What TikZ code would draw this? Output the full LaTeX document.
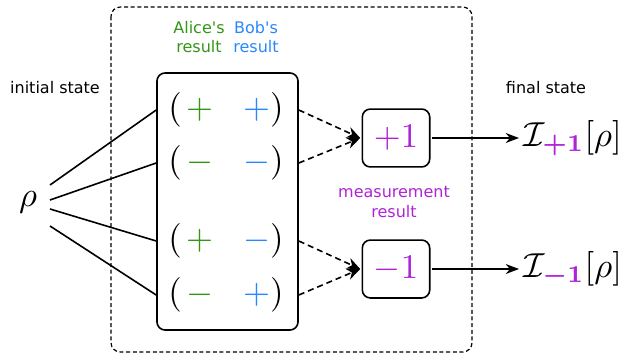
\RequirePackage{fix-cm}
\documentclass[tikz,border=0pt]{standalone}
\usepackage{amsmath}
\usepackage{amssymb}
\usepackage{fontspec}
\setsansfont{DejaVu Sans}
\usepackage{tikz}
\usetikzlibrary{arrows.meta}

\definecolor{alicegreen}{RGB}{51,150,20}
\definecolor{bobblue}{RGB}{40,135,255}
\definecolor{measpurple}{RGB}{175,35,215}

\tikzset{
  lbl/.style={font=\sffamily\fontsize{12}{14.5}\selectfont, align=center},
  big/.style={font=\fontsize{10}{12}\selectfont, scale=2.6},
  wire/.style={line width=1.2pt},
  resbox/.style={draw, wire, rounded corners=6pt, minimum width=19.2pt, minimum height=16.7pt, big},
  dashwire/.style={wire, dash pattern=on 4.5pt off 3pt, -{Stealth[length=10pt,width=8.5pt]}},
  outwire/.style={wire, -{Stealth[length=10pt,width=7.5pt]}}
}

\begin{document}
\begin{tikzpicture}[x=0.75pt,y=-0.75pt]
\useasboundingbox (0,0) rectangle (623,356);
\draw[line width=0.9pt, dash pattern=on 3pt off 2pt, rounded corners=7pt] (111,7) rectangle (472,352);

\node[lbl] (initial) at (55,88) {initial state};
\node[lbl] (final) at (546,88) {final state};
\node[lbl,alicegreen] (alice) at (199,37) {Alice\textquotesingle s\\result};
\node[lbl,bobblue] (bob) at (256,37) {Bob\textquotesingle s\\result};
\node[lbl,measpurple] (meas) at (394,202) {measurement\\result};

\node[big] (rho) at (28,202) {$\rho$};
\coordinate (s1) at (50,185);
\coordinate (s2) at (50,200);
\coordinate (s3) at (50,209);
\coordinate (s4) at (50,226);

\node[draw, wire, rounded corners=6pt, minimum width=105.75pt, minimum height=192.75pt] (outcomes) at (227.5,201.5) {};
\node[big] (r1) at (226,110) {$(\hspace{1.2pt}\textcolor{alicegreen}{+}\hspace{8.7pt}\textcolor{bobblue}{+})$};
\node[big] (r2) at (226,163) {$(\hspace{1.2pt}\textcolor{alicegreen}{-}\hspace{8.7pt}\textcolor{bobblue}{-})$};
\node[big] (r3) at (226,241) {$(\hspace{1.2pt}\textcolor{alicegreen}{+}\hspace{8.7pt}\textcolor{bobblue}{-})$};
\node[big] (r4) at (226,295) {$(\hspace{1.2pt}\textcolor{alicegreen}{-}\hspace{8.7pt}\textcolor{bobblue}{+})$};

\node[resbox] (plus) at (396,138) {$\textcolor{measpurple}{+1}$};
\node[resbox] (minus) at (396,269) {$\textcolor{measpurple}{-1}$};

\node[big, anchor=west, inner sep=1.2pt] (iplus) at (519,138) {$\mathcal{I}_{\textcolor{measpurple}{\boldsymbol{+1}}}[\rho]$};
\node[big, anchor=west, inner sep=1.2pt] (iminus) at (519,269) {$\mathcal{I}_{\textcolor{measpurple}{\boldsymbol{-1}}}[\rho]$};

\draw[wire] (s1) -- (outcomes.west |- r1);
\draw[wire] (s2) -- (outcomes.west |- r2);
\draw[wire] (s3) -- (outcomes.west |- r3);
\draw[wire] (s4) -- (outcomes.west |- r4);

\draw[dashwire] (outcomes.east |- r1) -- (plus.west);
\draw[dashwire] (outcomes.east |- r2) -- (plus.west);
\draw[dashwire] (outcomes.east |- r3) -- (minus.west);
\draw[dashwire] (outcomes.east |- r4) -- (minus.west);

\draw[outwire] (plus.east) -- (iplus.west);
\draw[outwire] (minus.east) -- (iminus.west);
\end{tikzpicture}
\end{document}
